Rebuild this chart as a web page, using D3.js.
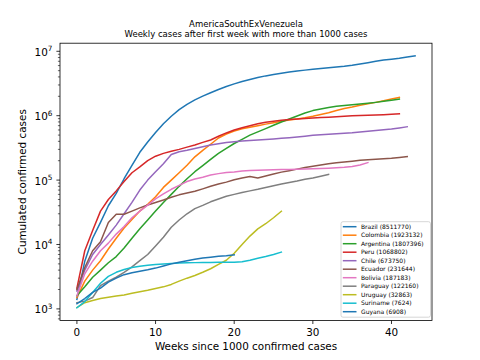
<!DOCTYPE html>
<html><head><meta charset="utf-8">
<script src="https://cdn.jsdelivr.net/npm/d3@7"></script>
<style>body{margin:0;background:#fff}svg{display:block;font-family:"DejaVu Sans",sans-serif}</style>
</head><body><svg id="c" width="480" height="360"></svg>
<script>
const titleLines = ["AmericaSouthExVenezuela", "Weekly cases after first week with more than 1000 cases"];
const xLabel = "Weeks since 1000 confirmed cases";
const yLabel = "Cumulated confirmed cases";
const countries = ["Brazil","Colombia","Argentina","Peru","Chile","Ecuador","Bolivia","Paraguay","Uruguay","Suriname","Guyana"];
const totals = [8511770,1923132,1807396,1068802,673750,231644,187183,122160,32863,7624,6908];
const xTicks = [0,10,20,30,40];
const yTickExp = [3,4,5,6,7];

const brazil = [1400,5500,12500,22000,40000,62000,105000,170000,270000,390000,550000,750000,980000,1240000,1500000,1760000,2010000,2270000,2550000,2840000,3120000,3400000,3660000,3910000,4150000,4350000,4550000,4750000,4950000,5100000,5250000,5400000,5550000,5700000,5850000,6050000,6350000,6650000,7000000,7300000,7550000,7800000,8150000,8511770];
const colombia = [1500,2700,4000,5600,8500,12500,18000,24500,33000,42000,55000,77000,100000,130000,170000,230000,290000,360000,450000,520000,580000,625000,660000,700000,740000,780000,820000,860000,890000,930000,980000,1040000,1110000,1200000,1290000,1360000,1450000,1530000,1610000,1700000,1810000,1923132];
const argentina = [1600,2200,3100,4000,5200,6500,8800,12500,17500,24000,33000,45000,60000,80000,105000,135000,168000,210000,260000,310000,370000,430000,500000,560000,630000,710000,800000,890000,990000,1100000,1200000,1270000,1340000,1400000,1440000,1480000,1520000,1560000,1610000,1670000,1740000,1807396];
const peru = [2100,8000,16500,33000,50000,68000,95000,130000,160000,200000,235000,260000,280000,300000,325000,350000,385000,420000,480000,540000,600000,650000,700000,750000,790000,820000,850000,870000,890000,905000,920000,935000,950000,965000,980000,995000,1005000,1015000,1025000,1037000,1050000,1068802];
const chile = [1900,4000,7000,10000,14000,20000,30000,45000,70000,100000,135000,180000,250000,275000,290000,310000,330000,350000,368000,385000,395000,405000,412000,420000,427000,435000,445000,455000,468000,480000,495000,505000,515000,525000,535000,545000,560000,575000,590000,605000,620000,645000,673750];
const ecuador = [2000,4400,8000,11000,22000,29500,29500,33000,37000,41000,45000,49000,54000,59000,63000,67000,73000,80000,87000,93000,101000,108000,114000,108000,116000,124000,133000,140000,148000,157000,164000,172000,180000,186000,191000,197000,203000,207000,211000,215000,219000,225000,231644];
const bolivia = [1600,3500,5500,8000,10500,14500,19000,26000,33000,41000,51000,61000,72000,83000,95000,104000,111000,120000,126000,131000,134000,138000,141000,142500,143500,144500,145500,146500,147500,148500,149500,151000,153000,155000,158000,163000,172000,187183];
const paraguay = [1250,1320,1500,2300,2700,3100,3700,4500,5600,7000,9500,13000,18500,24000,30000,36000,40500,46000,51000,56000,60000,64000,68000,72000,77000,82000,87000,92000,97000,103000,108000,115000,122160];
const uruguay = [1050,1250,1350,1450,1520,1580,1650,1750,1850,1950,2080,2200,2400,2700,3000,3300,3700,4200,4900,5700,7300,10000,13500,17500,21000,26000,32863];
const suriname = [1040,1300,1800,2500,3200,3700,4100,4400,4600,4750,4900,5000,5080,5150,5200,5230,5250,5270,5280,5290,5300,5400,5700,6100,6500,7000,7624];
const guyana = [1200,1450,1800,2100,2600,3000,3400,3650,3850,4050,4300,4650,5000,5300,5600,5900,6150,6350,6550,6700,6908];

const seriesValues = [brazil,colombia,argentina,peru,chile,ecuador,bolivia,paraguay,uruguay,suriname,guyana];
const colors = ["#1f77b4","#ff7f0e","#2ca02c","#d62728","#9467bd","#8c564b","#e377c2","#7f7f7f","#bcbd22","#17becf","#1f77b4"];

const svg = d3.select("#c");
const L = 60, R = 432, T = 43.2, B = 320.4;

const maxLen = d3.max(seriesValues, s => s.length) - 1;
const xm = maxLen * 0.05;
const x = d3.scaleLinear().domain([-xm, maxLen + xm]).range([L, R]);

const allV = seriesValues.flat();
const lmin = Math.log10(d3.min(allV)), lmax = Math.log10(d3.max(allV));
const lm = (lmax - lmin) * 0.05;
const y = d3.scaleLog().domain([Math.pow(10, lmin - lm), Math.pow(10, lmax + lm)]).range([B, T]);

// lines
const line = d3.line().x((d, i) => x(i)).y(d => y(d));
seriesValues.forEach((s, k) => {
  svg.append("path").attr("d", line(s)).attr("fill", "none")
    .attr("stroke", colors[k]).attr("stroke-width", 1.5)
    .attr("stroke-linejoin", "round").attr("stroke-linecap", "square");
});

// frame
svg.append("rect").attr("x", L).attr("y", T).attr("width", R - L).attr("height", B - T)
  .attr("fill", "none").attr("stroke", "#000").attr("stroke-width", 0.8);

// x axis ticks
const gx = svg.append("g");
xTicks.forEach(t => {
  gx.append("line").attr("x1", x(t)).attr("x2", x(t)).attr("y1", B).attr("y2", B + 3.6)
    .attr("stroke", "#000").attr("stroke-width", 0.8);
  gx.append("text").attr("x", x(t)).attr("y", 336).attr("text-anchor", "middle")
    .attr("font-size", 10.4).attr("fill", "#000").text(t);
});

// y axis ticks
const gy = svg.append("g");
const [d0, d1] = y.domain();
for (let e = Math.floor(Math.log10(d0)); e <= Math.ceil(Math.log10(d1)); e++) {
  for (let m = 1; m <= 9; m++) {
    const v = m * Math.pow(10, e);
    if (v < d0 || v > d1) continue;
    const len = m === 1 ? 3.6 : 2.1;
    gy.append("line").attr("x1", L - len).attr("x2", L).attr("y1", y(v)).attr("y2", y(v))
      .attr("stroke", "#000").attr("stroke-width", m === 1 ? 0.8 : 0.6);
  }
}
yTickExp.forEach(e => {
  const yy = y(Math.pow(10, e));
  const t = gy.append("text").attr("x", 52.5).attr("y", yy + 4.5).attr("text-anchor", "end")
    .attr("font-size", 10.4).attr("fill", "#000");
  t.append("tspan").text("10");
  t.append("tspan").attr("dy", -4.6).attr("font-size", 7.3).text(e);
});

// labels
svg.append("text").attr("x", (L + R) / 2).attr("y", 349.5).attr("text-anchor", "middle")
  .attr("font-size", 10.4).attr("fill", "#000").text(xLabel);
svg.append("text").attr("transform", `translate(25.5,${(T + B) / 2}) rotate(-90)`)
  .attr("text-anchor", "middle").attr("font-size", 10.4).attr("fill", "#000").text(yLabel);

// title
titleLines.forEach((s, i) => {
  svg.append("text").attr("x", (L + R) / 2).attr("y", 26.5 + i * 10.2).attr("text-anchor", "middle")
    .attr("font-size", 8.5).attr("fill", "#000").text(s);
});

// legend
const lg = svg.append("g");
lg.append("rect").attr("x", 341).attr("y", 221.7).attr("width", 89.5).attr("height", 95.5)
  .attr("rx", 2).attr("fill", "#fff").attr("fill-opacity", 0.8)
  .attr("stroke", "#cccccc").attr("stroke-width", 0.8);
countries.forEach((c, i) => {
  const cy = 226.7 + i * 8.5;
  lg.append("line").attr("x1", 342.8).attr("x2", 356.5).attr("y1", cy).attr("y2", cy)
    .attr("stroke", colors[i]).attr("stroke-width", 1.5);
  lg.append("text").attr("x", 361).attr("y", cy + 2.2).attr("font-size", 6)
    .attr("fill", "#000").text(`${c} (${totals[i]})`);
});
</script></body></html>
